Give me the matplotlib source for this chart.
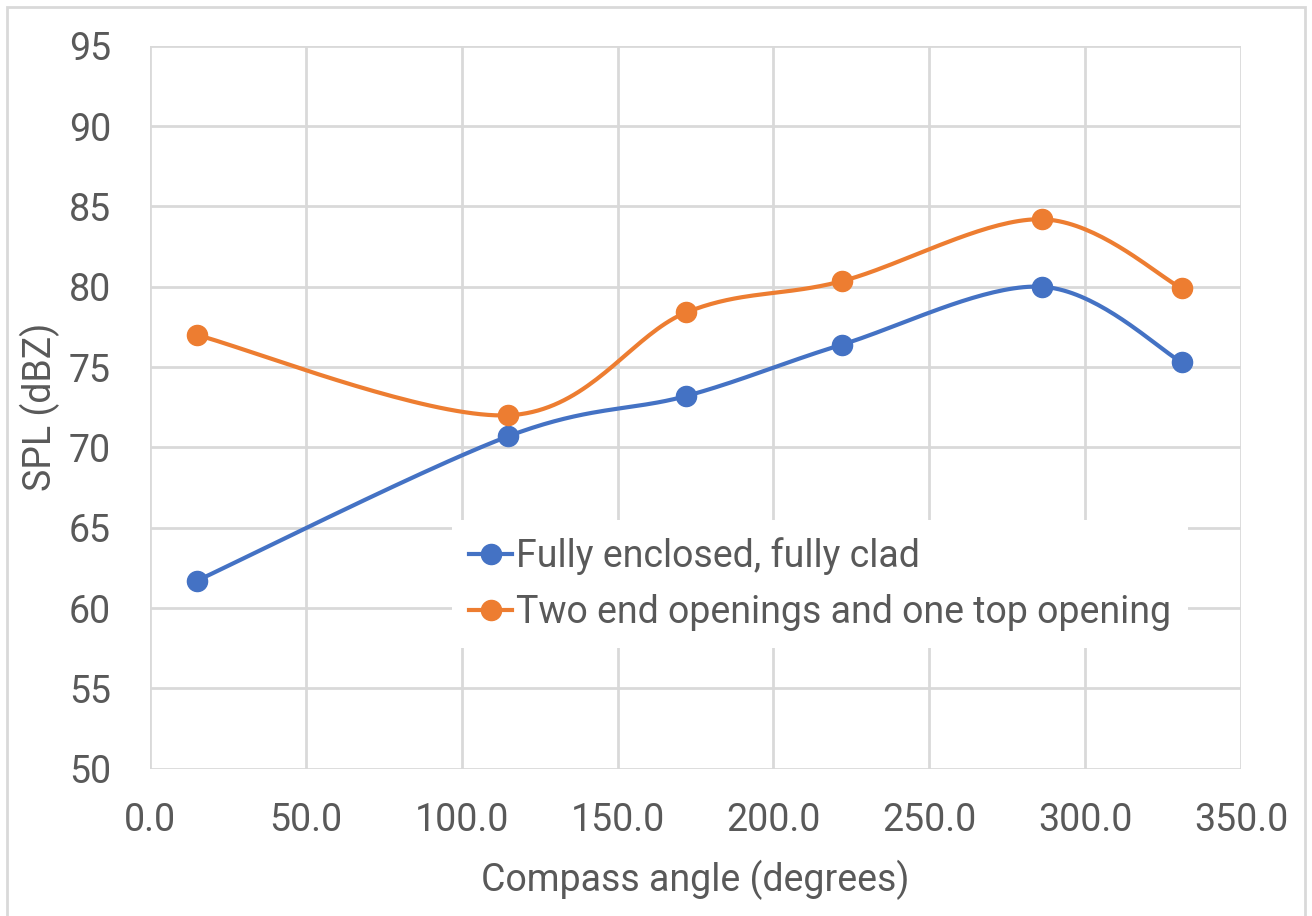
import numpy as np
import matplotlib
matplotlib.use("Agg")
import matplotlib.pyplot as plt
from matplotlib.patches import Rectangle

plt.rcParams['font.family'] = ['Roboto', 'DejaVu Sans']

angle = [15, 115, 172, 222, 286, 331]
enclosed = [61.7, 70.7, 73.2, 76.4, 80.0, 75.3]
openings = [77.0, 72.0, 78.4, 80.35, 84.2, 79.9]
series_names = ["Fully enclosed, fully clad", "Two end openings and one top opening"]
colors = ["#4472C4", "#ED7D31"]
text_grey = "#595959"


def smooth(x, y, n=40):
    # Catmull-Rom curve through the points, like a spreadsheet's smoothed line
    x = np.asarray(x, float)
    y = np.asarray(y, float)
    px = np.concatenate([[x[0]], x, [x[-1]]])
    py = np.concatenate([[y[0]], y, [y[-1]]])
    xs, ys = [], []
    t = np.linspace(0, 1, n)
    for i in range(1, len(px) - 2):
        p0 = np.array([px[i], py[i]])
        p3 = np.array([px[i + 1], py[i + 1]])
        c1 = p0 + (np.array([px[i + 1], py[i + 1]]) - np.array([px[i - 1], py[i - 1]])) / 6
        c2 = p3 - (np.array([px[i + 2], py[i + 2]]) - np.array([px[i], py[i]])) / 6
        b = ((1 - t) ** 3)[:, None] * p0 + (3 * (1 - t) ** 2 * t)[:, None] * c1 \
            + (3 * (1 - t) * t ** 2)[:, None] * c2 + (t ** 3)[:, None] * p3
        xs.extend(b[:, 0])
        ys.extend(b[:, 1])
    return xs, ys


fig = plt.figure(figsize=(13.12, 9.16), dpi=100)
ax = fig.add_axes([0.1143, 0.1607, 0.8317, 0.7894])

for vals, name, c in zip([enclosed, openings], series_names, colors):
    sx, sy = smooth(angle, vals)
    ax.plot(sx, sy, color=c, lw=3, solid_capstyle='round', zorder=3)
    ax.plot(angle, vals, 'o', color=c, ms=14.5, zorder=4)
    ax.plot([], [], '-o', color=c, lw=3, ms=14.5, label=name)

ax.set_xlim(0, 350)
ax.set_ylim(50, 95)
ax.set_xticks(np.arange(0, 351, 50))
ax.set_xticklabels([f"{v:.1f}" for v in np.arange(0, 351, 50)])
ax.set_yticks(np.arange(50, 96, 5))
ax.grid(True, color="#D9D9D9", lw=2)
ax.set_axisbelow(True)
for s in ax.spines.values():
    s.set_visible(False)
ax.tick_params(axis='y', length=0, labelsize=27, colors=text_grey, pad=28)
ax.tick_params(axis='x', length=0, labelsize=27, colors=text_grey, pad=24)

ax.set_xlabel("Compass angle (degrees)", fontsize=27, color=text_grey, labelpad=15)
ax.set_ylabel("SPL (dBZ)", fontsize=27, color=text_grey, labelpad=6)

leg = ax.legend(loc='center', bbox_to_anchor=(0.614, 0.2556), fontsize=27,
                frameon=True, facecolor='white', edgecolor='none', framealpha=1,
                handlelength=1.15, handletextpad=0.1, labelspacing=0.5,
                borderpad=0.45, borderaxespad=0, fancybox=False)
for t in leg.get_texts():
    t.set_color(text_grey)

fig.patches.append(Rectangle((0.005, -0.01), 0.99, 1.0025, transform=fig.transFigure,
                             fill=False, edgecolor="#D9D9D9", lw=2))

fig.savefig("out.png", dpi=100)
